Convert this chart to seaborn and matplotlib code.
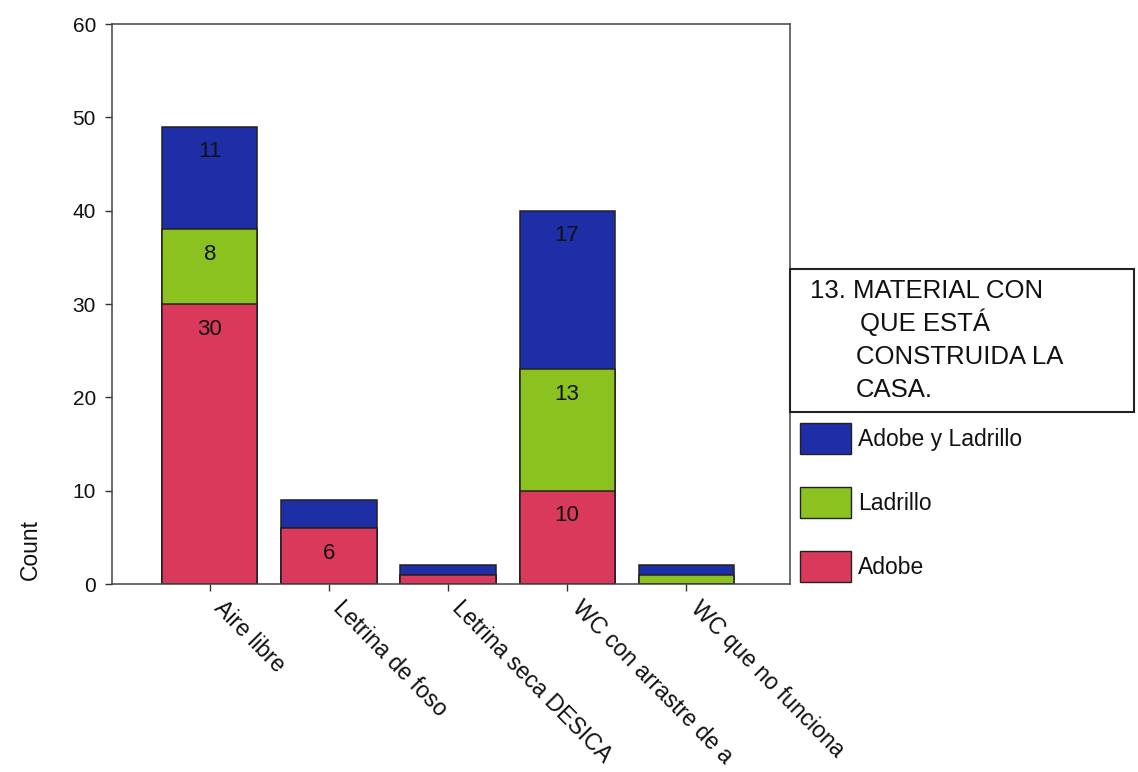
import pandas as pd
import numpy as np
import matplotlib
matplotlib.use('Agg')
import matplotlib.pyplot as plt
import matplotlib.transforms as mtrans
import seaborn as sns
from matplotlib.patches import Patch

sns.set_style('white')
plt.rcParams['font.family'] = ['Liberation Sans', 'DejaVu Sans']

categories = ['Aire libre', 'Letrina de foso', 'Letrina seca DESICA',
              'WC con arrastre de a', 'WC que no funciona']
adobe = [30, 6, 1, 10, 0]
ladrillo = [8, 0, 0, 13, 1]
adobe_ladrillo = [11, 3, 1, 17, 1]

series_names = ['Adobe y Ladrillo', 'Ladrillo', 'Adobe']
colors = {'Adobe y Ladrillo': '#1e2ea6', 'Ladrillo': '#8cc21f', 'Adobe': '#d93a5c'}
title_lines = ['13. MATERIAL CON', 'QUE ESTÁ', 'CONSTRUIDA LA', 'CASA.']

W, H = 1138, 772

df = pd.DataFrame({'cat': categories, 'Adobe': adobe,
                   'Ladrillo': ladrillo, 'Adobe y Ladrillo': adobe_ladrillo})
df['c1'] = df['Adobe']
df['c2'] = df['c1'] + df['Ladrillo']
df['c3'] = df['c2'] + df['Adobe y Ladrillo']

fig = plt.figure(figsize=(W / 100, H / 100), dpi=100)
ax = fig.add_axes([112 / W, 1 - 584 / H, (790 - 112) / W, (584 - 24) / H])

# stacked bars: draw the tallest layer first
for col, name in [('c3', 'Adobe y Ladrillo'), ('c2', 'Ladrillo'), ('c1', 'Adobe')]:
    sns.barplot(data=df, x='cat', y=col, color=colors[name], saturation=1,
                edgecolor='#222222', linewidth=1.1, width=0.8, ax=ax, errorbar=None)

# numbers inside the bigger segments
for i in range(len(categories)):
    segs = [(df['Adobe'][i], df['c1'][i]), (df['Ladrillo'][i], df['c2'][i]),
            (df['Adobe y Ladrillo'][i], df['c3'][i])]
    for v, top in segs:
        if v >= 5:
            ax.text(i, top - 2.7, str(v), ha='center', va='center',
                    fontsize=16, color='#111111')

ax.set_ylim(0, 60)
ax.set_xlim(-0.82, 4.87)
ax.set_yticks([0, 10, 20, 30, 40, 50, 60])
ax.set_xlabel('')
ax.set_ylabel('')
ax.tick_params(axis='both', which='both', direction='out', length=5,
               width=1, color='#333333', labelsize=15, left=True, bottom=True,
               labelcolor='#111111')
ax.tick_params(axis='y', pad=6.5)
ax.tick_params(axis='x', labelsize=16.6, pad=10)
ax.set_xticks(range(len(categories)))
ax.set_xticklabels(categories, rotation=-45.5, ha='left', va='center',
                   rotation_mode='anchor')
shift = mtrans.ScaledTranslation(8 / 100, 0, fig.dpi_scale_trans)
for lbl in ax.get_xticklabels():
    lbl.set_transform(lbl.get_transform() + shift)
for s in ax.spines.values():
    s.set_color('#444444')
    s.set_linewidth(1.1)

fig.text(30 / W, 1 - 550 / H, 'Count', rotation=90, ha='center', va='center',
         fontsize=16.5, color='#111111')

# legend title box
xs = [810, 860, 856, 856]
ys = [298, 331, 364, 397]
for t, x, y in zip(title_lines, xs, ys):
    fig.text(x / W, 1 - y / H, t, ha='left', va='baseline', fontsize=18.5,
             color='#111111')
box = plt.Rectangle((790 / W, 1 - 412 / H), (1134 - 790) / W, (412 - 269) / H,
                    transform=fig.transFigure, fill=False,
                    edgecolor='#222222', linewidth=1.5)
fig.patches.append(box)

handles = [Patch(facecolor=colors[n], edgecolor='#222222', label=n) for n in series_names]
fig.legend(handles=handles, loc='upper left', bbox_to_anchor=(800 / W, 1 - 423 / H),
           frameon=False, fontsize=16.5, handlelength=2.23, handleheight=1.72,
           labelspacing=1.42, handletextpad=0.3, borderaxespad=0, borderpad=0,
           labelcolor='#111111')

fig.savefig('out.png', dpi=100)
